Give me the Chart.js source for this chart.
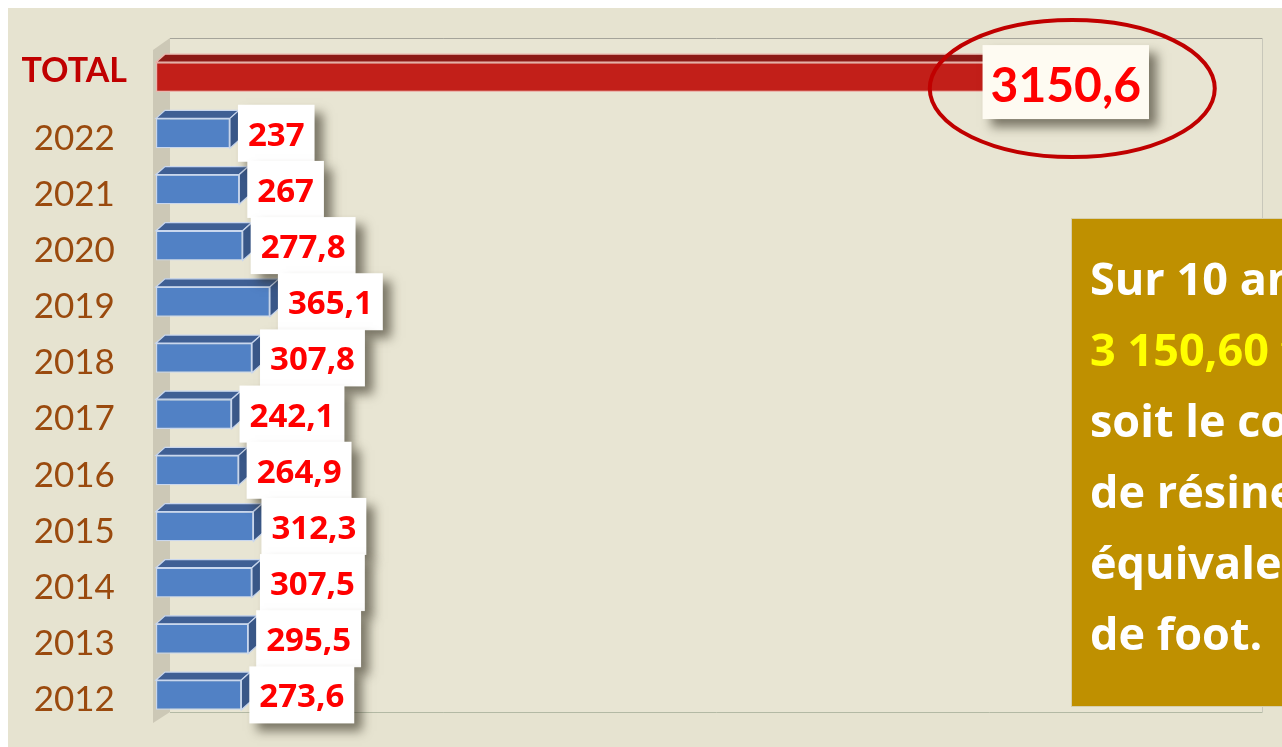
<!DOCTYPE html>
<html><head><meta charset="utf-8">
<script src="https://cdn.jsdelivr.net/npm/chart.js@4"></script>
<style>html,body{margin:0;padding:0;background:#fff;overflow:hidden}#wrap{width:1282px;height:747px;position:relative}</style>
</head><body><div id="wrap"><canvas id="c"></canvas></div>
<script>
const categories = ['TOTAL','2022','2021','2020','2019','2018','2017','2016','2015','2014','2013','2012'];
const values = [3150.6, 237, 267, 277.8, 365.1, 307.8, 242.1, 264.9, 312.3, 307.5, 295.5, 273.6];
const valueLabels = ['3150,6','237','267','277,8','365,1','307,8','242,1','264,9','312,3','307,5','295,5','273,6'];
const axisMin = 0, axisMax = 3500;
const noteLines = ['Sur 10 ans,','3 150,60 tonnes','soit le contenu','de résine','équivalent','de foot.'];
const noteHighlight = [false, true, false, false, false, false];

const DX = 9, DY = -8;   // bar depth
const WX = 14, WY = -11; // wall depth

const bgPlugin = {
  id: 'bg',
  beforeDraw(chart) {
    const {ctx, width, height, chartArea: a} = chart;
    ctx.save();
    ctx.fillStyle = '#ffffff'; ctx.fillRect(0, 0, width, height);
    ctx.fillStyle = '#e6e3d0'; ctx.fillRect(8, 8, width - 8, height - 8);
    const L = a.left + WX, T = a.top + WY, R = a.right + WX, B = a.bottom + WY;
    ctx.fillStyle = '#e8e5d3'; ctx.fillRect(L, T, R - L, B - T);
    ctx.lineWidth = 1;
    ctx.strokeStyle = '#a5a49a'; ctx.beginPath(); ctx.moveTo(L, T + 0.5); ctx.lineTo(R + 0.5, T + 0.5); ctx.stroke();
    ctx.strokeStyle = '#c8c7ba'; ctx.beginPath(); ctx.moveTo(R + 0.5, T); ctx.lineTo(R + 0.5, B); ctx.stroke();
    ctx.strokeStyle = '#b3b9a4'; ctx.beginPath(); ctx.moveTo(L, B + 0.5); ctx.lineTo(R + 0.5, B + 0.5); ctx.stroke();
    const fx = a.left - 3;
    ctx.fillStyle = '#ccc8b6';
    ctx.beginPath(); ctx.moveTo(fx, a.top + 1); ctx.lineTo(L, T); ctx.lineTo(L, B); ctx.lineTo(fx, a.bottom); ctx.closePath(); ctx.fill();
    ctx.restore();
  }
};

const deco = {
  id: 'deco',
  afterDatasetsDraw(chart) {
    const ctx = chart.ctx;
    const meta = chart.getDatasetMeta(0);
    const geo = [];
    ctx.save();
    meta.data.forEach((bar, i) => {
      const p = bar.getProps(['x', 'y', 'base', 'height'], true);
      const l = Math.min(p.base, p.x), r = Math.max(p.base, p.x);
      const t = p.y - p.height / 2, b = p.y + p.height / 2;
      geo.push({l, r, t, b, y: p.y});
      const red = i === 0;
      ctx.lineWidth = 1.2;
      ctx.strokeStyle = red ? '#eab6ae' : '#c9d7ee';
      ctx.fillStyle = red ? '#8c1a16' : '#3f5f94';
      ctx.beginPath(); ctx.moveTo(l, t); ctx.lineTo(l + DX, t + DY); ctx.lineTo(r + DX, t + DY); ctx.lineTo(r, t); ctx.closePath();
      ctx.fill(); ctx.stroke();
      ctx.fillStyle = red ? '#7c1512' : '#3a5889';
      ctx.beginPath(); ctx.moveTo(r, t); ctx.lineTo(r + DX, t + DY); ctx.lineTo(r + DX, b + DY); ctx.lineTo(r, b); ctx.closePath();
      ctx.fill(); ctx.stroke();
    });
    geo.forEach((g, i) => {
      if (i === 0) return;
      ctx.font = 'bold 33px "Open Sans"';
      const w = ctx.measureText(valueLabels[i]).width;
      const bw = w + 20, bh = 57;
      const bx = g.r + DX - 1, by = g.y - bh / 2;
      ctx.save();
      ctx.shadowColor = 'rgba(50,45,30,0.6)'; ctx.shadowBlur = 10; ctx.shadowOffsetX = 8; ctx.shadowOffsetY = 8;
      ctx.fillStyle = '#ffffff'; ctx.fillRect(bx, by, bw, bh);
      ctx.restore();
      ctx.fillStyle = '#ff0000'; ctx.textAlign = 'center'; ctx.textBaseline = 'alphabetic';
      ctx.fillText(valueLabels[i], bx + bw / 2, g.y + 12.5);
    });
    const g0 = geo[0];
    ctx.font = 'bold 48px Lato';
    const tw = ctx.measureText(valueLabels[0]).width;
    const tbw = tw + 16, tbh = 74;
    const tbx = g0.r + DX + 1 - tbw, tcy = g0.y + 5, tby = tcy - tbh / 2;
    ctx.save();
    ctx.shadowColor = 'rgba(50,45,30,0.6)'; ctx.shadowBlur = 10; ctx.shadowOffsetX = 8; ctx.shadowOffsetY = 8;
    ctx.fillStyle = '#fefbf2'; ctx.fillRect(tbx, tby, tbw, tbh);
    ctx.restore();
    ctx.fillStyle = '#ff0000'; ctx.textAlign = 'center'; ctx.textBaseline = 'alphabetic';
    ctx.fillText(valueLabels[0], tbx + tbw / 2, tcy + 20);
    ctx.beginPath();
    ctx.ellipse(tbx + tbw / 2 + 6.5, tcy + 6.5, 142.5, 68.5, 0, 0, Math.PI * 2);
    ctx.lineWidth = 4; ctx.strokeStyle = '#c00000'; ctx.stroke();
    ctx.fillStyle = '#bf9000';
    ctx.fillRect(1071, 218, 260, 488);
    ctx.lineWidth = 1; ctx.strokeStyle = '#d6cfae';
    ctx.strokeRect(1071.5, 218.5, 260, 488);
    ctx.font = 'bold 45px "Open Sans"'; ctx.textAlign = 'left';
    noteLines.forEach((s, i) => {
      ctx.fillStyle = noteHighlight[i] ? '#ffff00' : '#ffffff';
      ctx.fillText(s, 1090, 295 + 71 * i);
    });
    ctx.restore();
  }
};

new Chart(document.getElementById('c'), {
  type: 'bar',
  data: {
    labels: categories,
    datasets: [{
      data: values,
      backgroundColor: values.map((v, i) => i === 0 ? '#c21f19' : '#5181c5'),
      borderColor: values.map((v, i) => i === 0 ? '#eab6ae' : '#c9d7ee'),
      borderWidth: 1.2,
      borderSkipped: false,
      barPercentage: 0.53,
      categoryPercentage: 1
    }]
  },
  options: {
    indexAxis: 'y',
    responsive: true,
    maintainAspectRatio: false,
    animation: false,
    layout: {padding: {left: 0, top: 49, right: 34, bottom: 24}},
    plugins: {legend: {display: false}, tooltip: {enabled: false}},
    scales: {
      x: {display: false, min: axisMin, max: axisMax},
      y: {
        afterFit(scale) { scale.width = 156; scale.paddingTop = 0; scale.paddingBottom = 0; },
        grid: {display: false},
        border: {display: false},
        ticks: {
          crossAlign: 'center',
          padding: 21,
          labelOffset: 5,
          autoSkip: false,
          callback(value, index) { return index === 0 ? [categories[index], ''] : categories[index]; },
          color: (c) => c.index === 0 ? '#c00000' : '#9a4a0e',
          font: (c) => c.index === 0 ? {family: 'Lato', size: 34, weight: 'bold', lineHeight: 0.65} : {family: 'Lato', size: 35, weight: 'normal'}
        }
      }
    }
  },
  plugins: [bgPlugin, deco]
});
</script>
</body></html>
